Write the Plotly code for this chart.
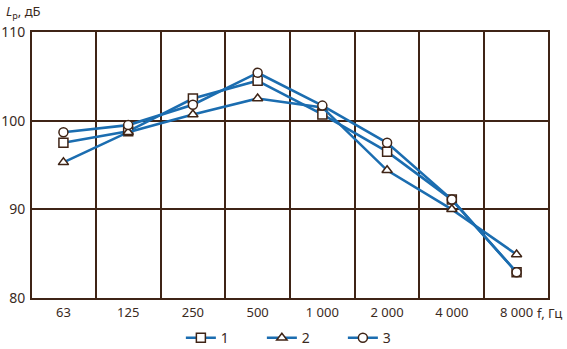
import plotly.graph_objects as go

categories = ["63", "125", "250", "500", "1 000", "2 000", "4 000", "8 000"]
series_names = ["1", "2", "3"]
s1 = [97.5, 98.8, 102.5, 104.5, 100.7, 96.5, 91.1, 82.9]
s2 = [95.3, 98.7, 100.7, 102.5, 101.5, 94.4, 90.0, 84.9]
s3 = [98.7, 99.5, 101.8, 105.4, 101.7, 97.5, 91.1, 82.9]
symbols = ["square", "triangle-up", "circle"]
y_ticks = [80, 90, 100, 110]

LINE = "#1b6db0"
GRID = "#3f2416"
TEXT = "#3a2a1e"
FONT = "Noto Sans"

fig = go.Figure()
for name, vals, sym in zip(series_names, [s1, s2, s3], symbols):
    fig.add_trace(go.Scatter(
        x=categories, y=vals, name=name, mode="lines+markers",
        line=dict(color=LINE, width=2.6),
        marker=dict(symbol=sym, size=9, color="white",
                    line=dict(color=GRID, width=1.5)),
    ))

fig.update_layout(
    width=567, height=349,
    margin=dict(l=32, r=19, t=32, b=51),
    paper_bgcolor="white", plot_bgcolor="white",
    font=dict(family=FONT, size=13, color=TEXT),
    showlegend=True,
    legend=dict(orientation="h", xref="container", yref="container",
                x=0.319, y=0.031, xanchor="left", yanchor="middle",
                font=dict(size=14), entrywidth=36, tracegroupgap=0,
                bgcolor="rgba(0,0,0,0)"),
    xaxis=dict(type="category", tickson="boundaries", showgrid=True,
               gridcolor=GRID, gridwidth=1.7, showline=True, linecolor=GRID,
               linewidth=1.7, mirror=True, ticks="", zeroline=False,
               automargin=False, ticklabelstandoff=2,
               tickfont=dict(size=13, color=TEXT)),
    yaxis=dict(range=[80, 110], tickvals=y_ticks, showgrid=True,
               gridcolor=GRID, gridwidth=1.7, showline=True, linecolor=GRID,
               linewidth=1.7, mirror=True, ticks="", zeroline=False,
               automargin=False, ticklabelstandoff=2,
               tickfont=dict(size=14, color=TEXT)),
    annotations=[
        dict(text="<i>L</i><sub>p</sub>, дБ", xref="paper", yref="paper",
             x=-0.055, y=1.075, xanchor="left", yanchor="middle",
             showarrow=False, font=dict(size=13, color=TEXT)),
        dict(text="f, Гц", xref="paper", yref="paper",
             x=0.975, y=-0.056, xanchor="left", yanchor="middle",
             showarrow=False, font=dict(size=13, color=TEXT)),
    ],
)

fig.write_html("out.html", config={"displayModeBar": False},
               post_script="document.body.style.margin='0';")
